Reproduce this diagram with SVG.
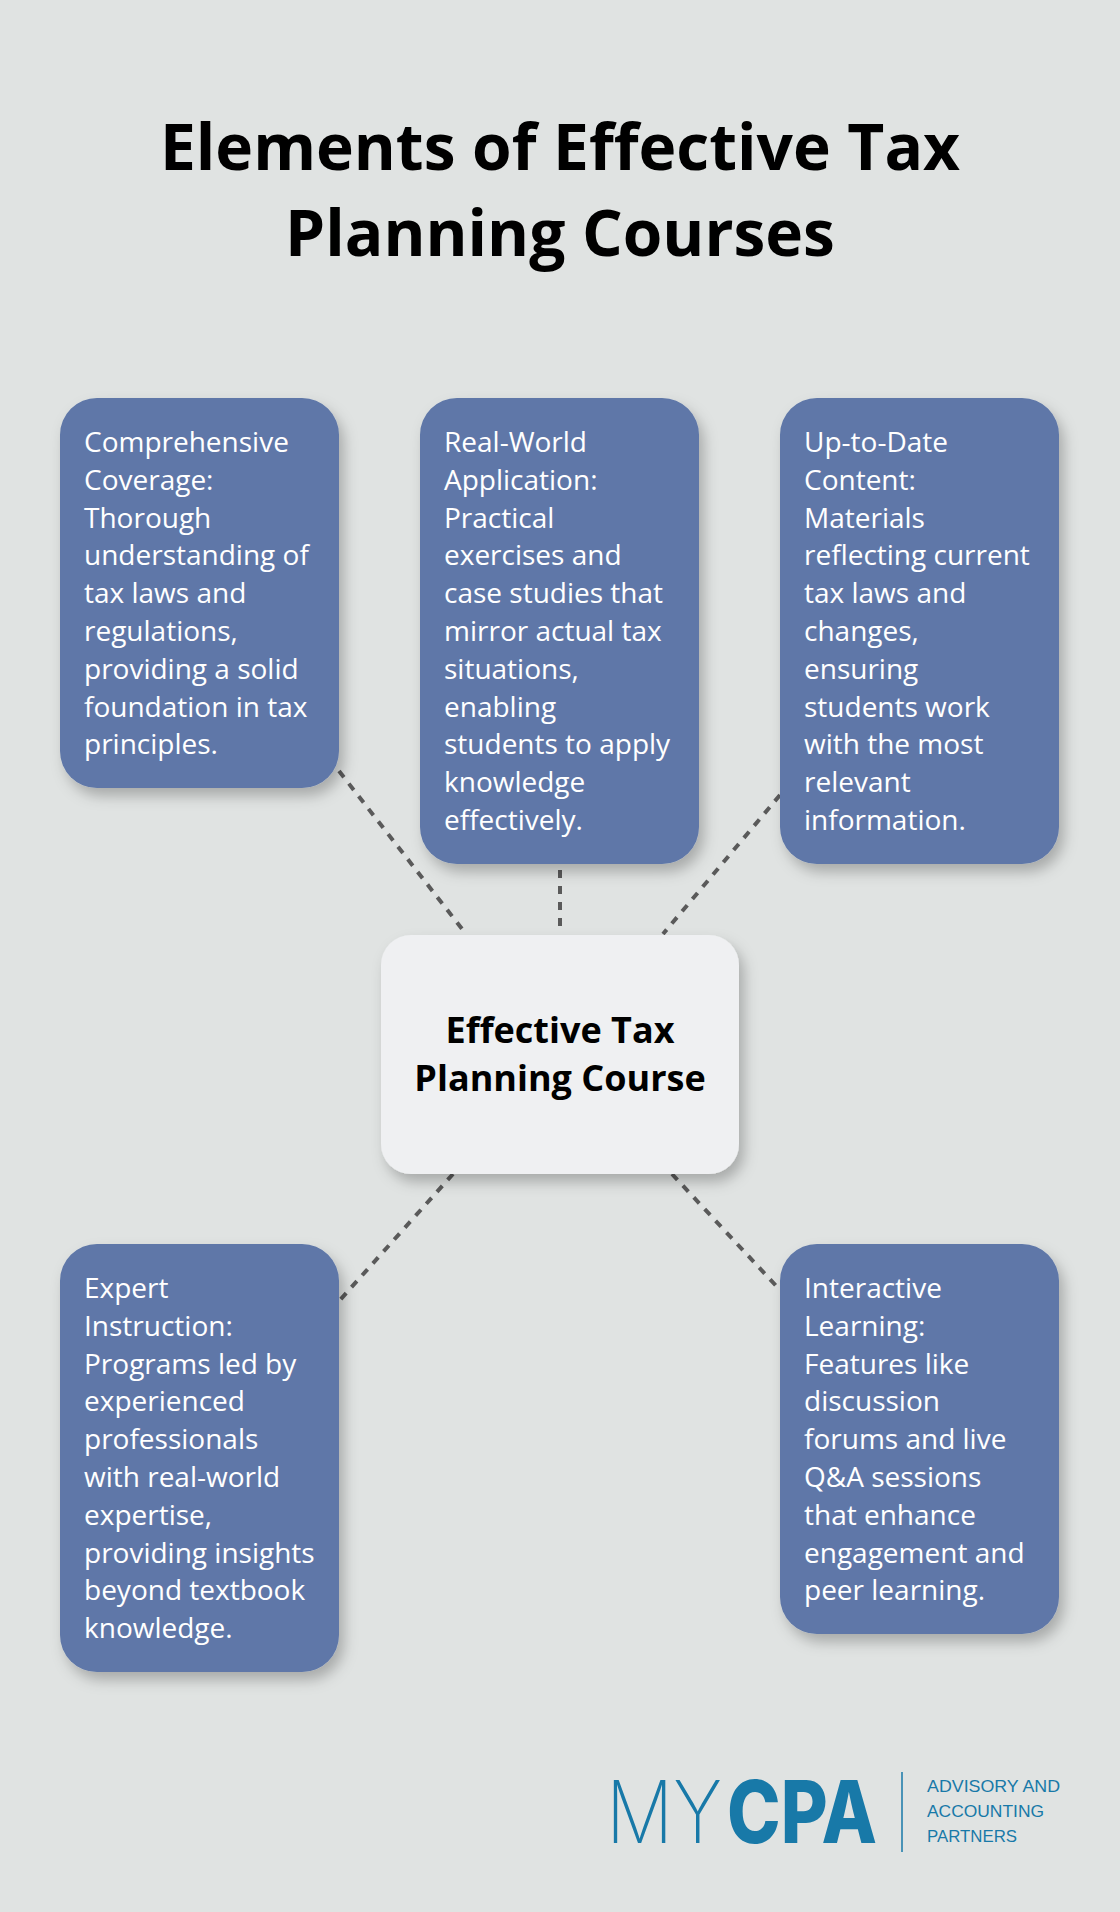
<svg xmlns="http://www.w3.org/2000/svg" width="1120" height="1912" viewBox="0 0 1120 1912">
  <defs>
    <filter id="shadow" x="-20%" y="-20%" width="150%" height="150%">
      <feDropShadow dx="5" dy="8" stdDeviation="7" flood-color="#000" flood-opacity="0.25"/>
    </filter>
    <style>
      .bg { fill: #e0e3e2; }
      .title { font-family: "Open Sans", "Noto Sans", sans-serif; font-weight: 700; font-size: 64px; fill: #000; text-anchor: middle; }
      .card { fill: #5e77a8; filter: url(#shadow); }
      .center { fill: #eff0f2; filter: url(#shadow); }
      .body { font-family: "Open Sans", "Noto Sans", sans-serif; font-size: 28px; fill: #ffffff; }
      .ctext { font-family: "Open Sans", "Noto Sans", sans-serif; font-weight: 700; font-size: 36px; fill: #000; text-anchor: middle; }
      .conn { stroke: #5a5a5a; stroke-width: 4; stroke-dasharray: 8 8; fill: none; }
      .logo { fill: #1879a8; font-family: Inter, Lato, "Liberation Sans", sans-serif; }
      .tag { font-family: "Liberation Sans", "Open Sans", sans-serif; font-size: 16.5px; fill: #1879a8; }
    </style>
  </defs>

  <rect class="bg" x="0" y="0" width="1120" height="1912"/>

  <g id="title">
    <text class="title" x="560" y="170">Elements of Effective Tax</text>
    <text class="title" x="560" y="256">Planning Courses</text>
  </g>

  <g id="connectors">
    <line class="conn" x1="339" y1="771" x2="466" y2="934"/>
    <line class="conn" x1="560" y1="870" x2="560" y2="926"/>
    <line class="conn" x1="780" y1="795" x2="663" y2="934"/>
    <line class="conn" x1="453" y1="1174" x2="340" y2="1300"/>
    <line class="conn" x1="672" y1="1174" x2="780" y2="1290"/>
  </g>

  <g id="node-comprehensive">
    <rect class="card" x="60" y="398" width="279" height="390" rx="37" ry="37"/>
    <text class="body" x="84" y="452">
      <tspan x="84" y="452">Comprehensive</tspan>
      <tspan x="84" dy="37.8">Coverage:</tspan>
      <tspan x="84" dy="37.8">Thorough</tspan>
      <tspan x="84" dy="37.8">understanding of</tspan>
      <tspan x="84" dy="37.8">tax laws and</tspan>
      <tspan x="84" dy="37.8">regulations,</tspan>
      <tspan x="84" dy="37.8">providing a solid</tspan>
      <tspan x="84" dy="37.8">foundation in tax</tspan>
      <tspan x="84" dy="37.8">principles.</tspan>
    </text>
  </g>

  <g id="node-realworld">
    <rect class="card" x="420" y="398" width="279" height="466" rx="37" ry="37"/>
    <text class="body" x="444" y="452">
      <tspan x="444" y="452">Real-World</tspan>
      <tspan x="444" dy="37.8">Application:</tspan>
      <tspan x="444" dy="37.8">Practical</tspan>
      <tspan x="444" dy="37.8">exercises and</tspan>
      <tspan x="444" dy="37.8">case studies that</tspan>
      <tspan x="444" dy="37.8">mirror actual tax</tspan>
      <tspan x="444" dy="37.8">situations,</tspan>
      <tspan x="444" dy="37.8">enabling</tspan>
      <tspan x="444" dy="37.8">students to apply</tspan>
      <tspan x="444" dy="37.8">knowledge</tspan>
      <tspan x="444" dy="37.8">effectively.</tspan>
    </text>
  </g>

  <g id="node-uptodate">
    <rect class="card" x="780" y="398" width="279" height="466" rx="37" ry="37"/>
    <text class="body" x="804" y="452">
      <tspan x="804" y="452">Up-to-Date</tspan>
      <tspan x="804" dy="37.8">Content:</tspan>
      <tspan x="804" dy="37.8">Materials</tspan>
      <tspan x="804" dy="37.8">reflecting current</tspan>
      <tspan x="804" dy="37.8">tax laws and</tspan>
      <tspan x="804" dy="37.8">changes,</tspan>
      <tspan x="804" dy="37.8">ensuring</tspan>
      <tspan x="804" dy="37.8">students work</tspan>
      <tspan x="804" dy="37.8">with the most</tspan>
      <tspan x="804" dy="37.8">relevant</tspan>
      <tspan x="804" dy="37.8">information.</tspan>
    </text>
  </g>

  <g id="node-center">
    <rect class="center" x="381" y="935" width="358" height="239" rx="30" ry="30"/>
    <text class="ctext" x="560" y="1043">Effective Tax</text>
    <text class="ctext" x="560" y="1091">Planning Course</text>
  </g>

  <g id="node-expert">
    <rect class="card" x="60" y="1244" width="279" height="428" rx="37" ry="37"/>
    <text class="body" x="84" y="1298">
      <tspan x="84" y="1298">Expert</tspan>
      <tspan x="84" dy="37.8">Instruction:</tspan>
      <tspan x="84" dy="37.8">Programs led by</tspan>
      <tspan x="84" dy="37.8">experienced</tspan>
      <tspan x="84" dy="37.8">professionals</tspan>
      <tspan x="84" dy="37.8">with real-world</tspan>
      <tspan x="84" dy="37.8">expertise,</tspan>
      <tspan x="84" dy="37.8">providing insights</tspan>
      <tspan x="84" dy="37.8">beyond textbook</tspan>
      <tspan x="84" dy="37.8">knowledge.</tspan>
    </text>
  </g>

  <g id="node-interactive">
    <rect class="card" x="780" y="1244" width="279" height="390" rx="37" ry="37"/>
    <text class="body" x="804" y="1298">
      <tspan x="804" y="1298">Interactive</tspan>
      <tspan x="804" dy="37.8">Learning:</tspan>
      <tspan x="804" dy="37.8">Features like</tspan>
      <tspan x="804" dy="37.8">discussion</tspan>
      <tspan x="804" dy="37.8">forums and live</tspan>
      <tspan x="804" dy="37.8">Q&amp;A sessions</tspan>
      <tspan x="804" dy="37.8">that enhance</tspan>
      <tspan x="804" dy="37.8">engagement and</tspan>
      <tspan x="804" dy="37.8">peer learning.</tspan>
    </text>
  </g>

  <g id="logo">
    <text class="logo" x="606" y="1843" font-size="86"><tspan x="606" font-weight="200" textLength="116" lengthAdjust="spacingAndGlyphs">MY</tspan><tspan x="727" font-weight="800" textLength="150" lengthAdjust="spacingAndGlyphs">CPA</tspan></text>
    <line x1="902" y1="1772" x2="902" y2="1852" stroke="#1879a8" stroke-width="1.5"/>
    <text class="tag" x="927" y="1792" textLength="133" lengthAdjust="spacingAndGlyphs">ADVISORY AND</text>
    <text class="tag" x="927" y="1817" textLength="117" lengthAdjust="spacingAndGlyphs">ACCOUNTING</text>
    <text class="tag" x="927" y="1842" textLength="90" lengthAdjust="spacingAndGlyphs">PARTNERS</text>
  </g>
</svg>
